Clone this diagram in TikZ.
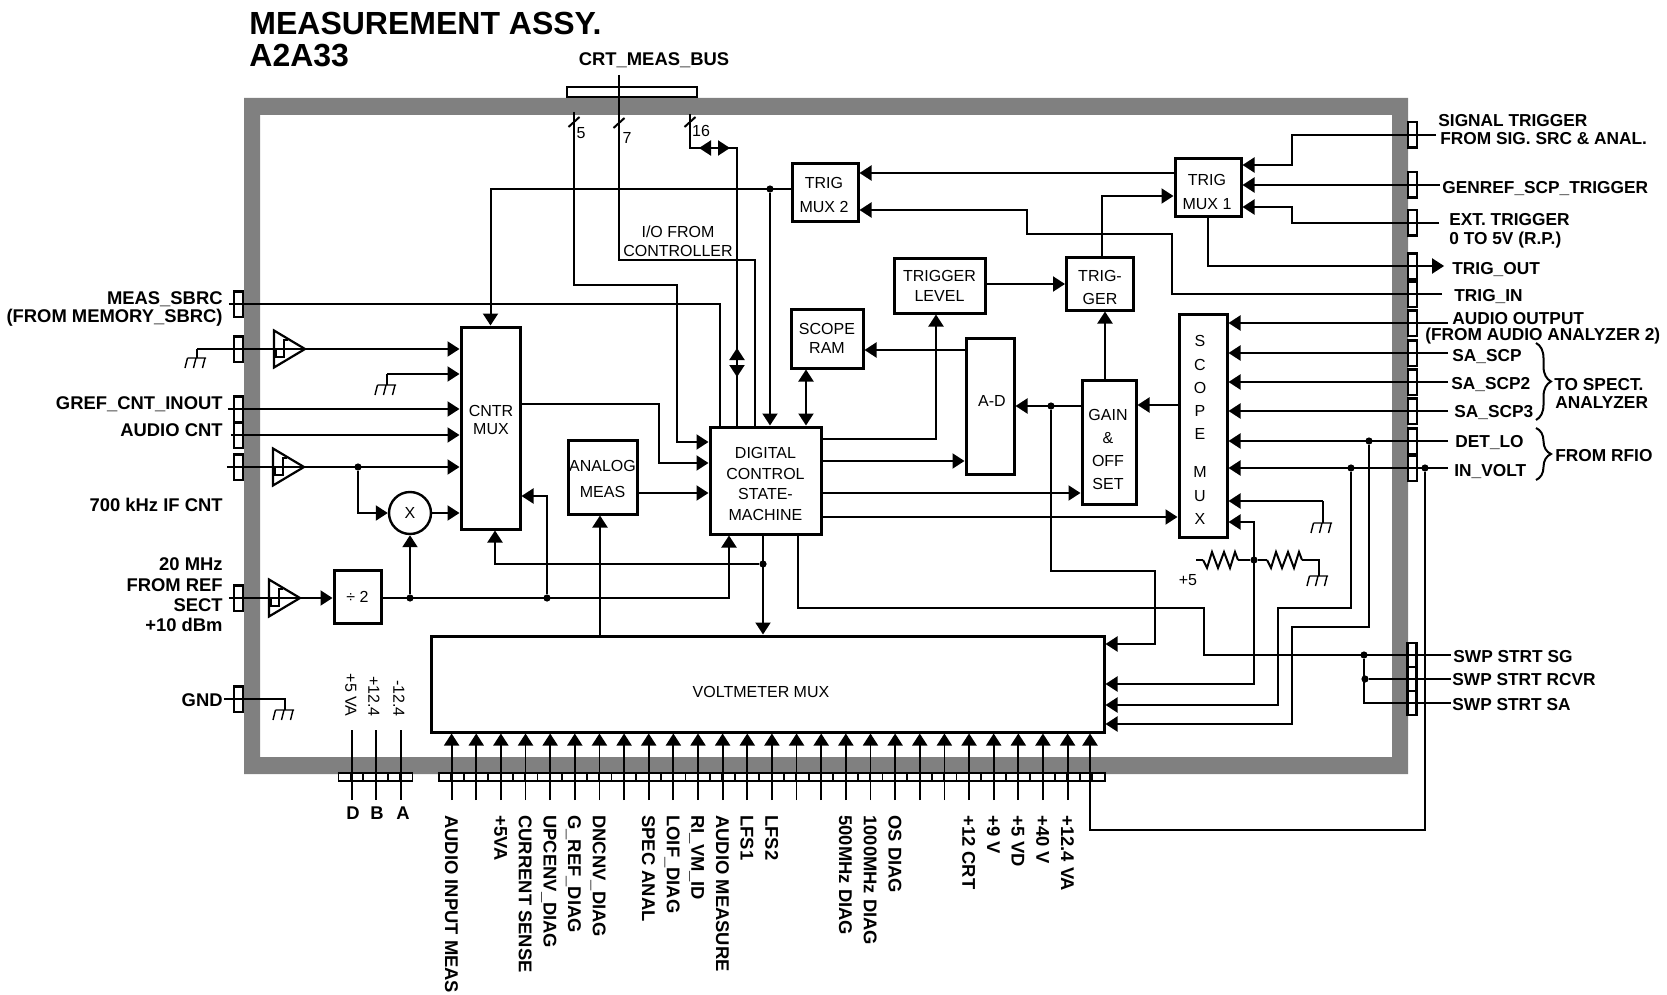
\documentclass[tikz,border=0pt]{standalone}
\usepackage{fontspec}
\setmainfont{Liberation Sans}
\usetikzlibrary{arrows.meta,decorations.pathreplacing}
\newcommand{\boxfont}[1]{\fontsize{8}{#1}\selectfont}
\definecolor{framegray}{HTML}{808080}
\tikzset{
	wire/.style={line width=1pt},
	pinwire/.style={line width=.9pt},
	blockbox/.style={draw,fill=white,line width=1.5pt,inner sep=0pt,align=center},
	termbox/.style={draw,fill=white,line width=1.1pt,inner sep=0pt,minimum width=4.5pt,minimum height=12.6pt},
	pinrowbox/.style={draw,fill=white,line width=.8pt,inner sep=0pt,minimum height=4pt},
	jdot/.style={circle,fill,inner sep=0pt,minimum size=3.6pt},
	boldlab/.style={inner sep=0pt,font=\fontsize{9.2}{11}\selectfont\bfseries,text height=6.6pt,text depth=0pt},
	sidelab/.style={boldlab,anchor=west,font=\fontsize{8.65}{11}\selectfont\bfseries},
	reglab/.style={inner sep=0pt,font=\boxfont{10},text height=5.7pt,text depth=0pt},
	linelab/.style={inner sep=0pt,align=center},
	titlelab/.style={inner sep=0pt,anchor=west,font=\fontsize{16}{18}\selectfont\bfseries,text height=11.4pt,text depth=0pt},
	gnd/.pic={\draw[line width=.7pt] (-9.5,0) -- (9,0) (-9.5,0) -- (-12,10) (-1,0) -- (-3.5,10) (8,0) -- (5.5,10);},
	ampbuf/.pic={\draw[line width=1.1pt] (0,-18.5) -- (31,0) -- (0,18.5) -- cycle;
		\draw[line width=1pt] (2,-1) -- (2,8) -- (10,8) -- (10,-9) -- (14,-9);},
	resist/.pic={\draw[wire] (0,0) -- (4,8) -- (9,-8) -- (15,8) -- (21,-8) -- (27,8) -- (32,-8) -- (35,0);}
}
\begin{document}
\begin{tikzpicture}[x=.5pt,y=-.5pt,>={Triangle[length=6pt,width=7.5pt]}]
	\useasboundingbox (0,0) rectangle (1667,995);
	\fill[framegray,even odd rule] (244,98) rectangle (1408,774) (260,115) rectangle (1392,757);
	% titles
	\node[titlelab] (title) at (249,23) {MEASUREMENT ASSY.};
	\node[titlelab] (titleref) at (249,55) {A2A33};
	\node[boldlab] (lbus) at (654,58.5) {CRT\_MEAS\_BUS};
	% blocks
	\node[blockbox,minimum width=33pt,minimum height=29pt] (trigmuxtwo) at (825,193) {};
	\node[linelab,font=\boxfont{12}] (trigtwotext) at (824,195) {TRIG\\MUX 2};
	\node[blockbox,minimum width=33pt,minimum height=29pt] (trigmuxone) at (1208,188) {};
	\node[linelab,font=\boxfont{12}] (trigonetext) at (1207,192) {TRIG\\MUX 1};
	\node[blockbox,minimum width=29.5pt,minimum height=101pt] (cntrmux) at (490.5,428) {};
	\node[linelab,font=\boxfont{9}] (cntrtext) at (491,419.5) {CNTR\\MUX};
	\node[blockbox,font=\boxfont{10.2},minimum width=55.5pt,minimum height=53.5pt] (dcsm) at (765.5,480.5) {};
	\node[linelab,font=\boxfont{10.2}] (dcsmtext) at (765.5,484) {DIGITAL\\CONTROL\\STATE-\\MACHINE};
	\node[blockbox,minimum width=34.5pt,minimum height=37pt] (analog) at (602.5,477) {};
	\node[linelab,font=\boxfont{13}] (analogtext) at (602.5,478.5) {ANALOG\\MEAS};
	\node[blockbox,minimum width=336.5pt,minimum height=48pt] (vmm) at (767.5,684) {};
	\node[reglab] (vmmtext) at (761,692) {VOLTMETER MUX};
	\node[blockbox,font=\boxfont{10},minimum width=23.5pt,minimum height=26.5pt] (divtwo) at (357.5,596.5) {÷ 2};
	\node[blockbox,minimum width=33.5pt,minimum height=26.5pt] (trigger) at (1100,283.5) {};
	\node[linelab,font=\boxfont{11.5}] (triggertext) at (1100,287.5) {TRIG-\\GER};
	\node[blockbox,font=\boxfont{10},minimum width=45.5pt,minimum height=27.5pt] (triglevel) at (939.5,285.5) {TRIGGER\\LEVEL};
	\node[blockbox,font=\boxfont{9.5},minimum width=36pt,minimum height=29.5pt] (scoperam) at (827,338.5) {SCOPE\\RAM};
	\node[blockbox,minimum width=24pt,minimum height=68pt] (atod) at (990,406) {};
	\node[reglab] (atodtext) at (992,401) {A-D};
	\node[blockbox,minimum width=27pt,minimum height=62pt] (gain) at (1109,442) {};
	\node[linelab,font=\boxfont{11.6}] (gaintext) at (1108,449.5) {GAIN\\\&\\OFF\\SET};
	\node[blockbox,minimum width=24pt,minimum height=111.5pt] (scopemux) at (1203,425.5) {};
	\node[linelab,font=\boxfont{11.6}] (scopetext) at (1200,430) {S\\C\\O\\P\\E\\[7.5pt]M\\U\\X};
	\node[circle,draw,fill=white,line width=1.2pt,inner sep=0pt,minimum size=21pt,font=\boxfont{10}] (xmix) at (410,513) {X};
	% terminals
	\foreach \t/\y in {tmeas/304,tampin/349,tgref/409,taudcnt/435,tifcnt/467,tref/598,tgnd/699}
		\node[termbox] (\t) at (238.5,\y) {};
	\foreach \t/\y in {tsig/135,tgen/185,tbext/223,ttrigout/266,ttrigin/294,taudout/323,tscp/353,tscptwo/382,tscpthree/411,tdet/441,tvolt/468}
		\node[termbox] (\t) at (1412.5,\y) {};
	\foreach \t/\y in {tswpsg/655,tswprc/679,tswpsa/703}
		\node[termbox,minimum height=12pt] (\t) at (1412,\y) {};
	\node[pinrowbox,minimum width=65pt,minimum height=5pt] (busrow) at (632,92) {};
	\node[pinrowbox,minimum width=37pt] (powrow) at (375.5,777) {};
	\node[pinrowbox,minimum width=333pt] (pinrow) at (772,777) {};
	\foreach \i in {1,...,5}
		\draw[pinwire] (338.5+12.33*\i,773) -- (338.5+12.33*\i,781);
	\foreach \i in {1,...,53}
		\draw[pinwire] (439+12.32*\i,773) -- (439+12.32*\i,781);
	% junctions
	\foreach \d/\p in {dtrig/{770,189},difcnt/{358,467},dx/{410,598},dm/{547,598},dsel/{763,564},dad/{1051,406},ddet/{1369,441},dvolt/{1351,468},dvoltr/{1425,468},dres/{1254,560},dsg/{1364,655},drc/{1365,679}}
		\node[jdot] (\d) at (\p) {};
	\coordinate (bfive) at (574,112);
	\coordinate (bseven) at (619,75);
	\coordinate (bsixteen) at (690,114);
	\coordinate (gndone) at (197,349);
	\coordinate (gndtwo) at (387,374);
	\coordinate (gndthree) at (1323,501);
	\coordinate (pintop) at (0,730);
	\coordinate (pinbase) at (0,800);
	\coordinate (resin) at (1196,560);
	% bus lines
	\draw[wire,->] (bfive) |- (677,285) |- (dcsm.west |- 0,442);
	\draw[wire] (bseven) |- (755,260) -- (755,0 |- dcsm.north);
	\draw[wire] (bsixteen) |- (737,148) -- (737,0 |- dcsm.north);
	\draw[wire,<->] (699,148) -- (730,148);
	\draw[wire,<->] (737,348) -- (737,377);
	\foreach \b/\y in {bfive/10,bseven/48,bsixteen/8}
		\draw[wire] ([shift={(-5.5,\y+5)}]\b) -- ([shift={(5.5,\y-5)}]\b);
	\node[reglab] (nfive) at (581,133) {5};
	\node[reglab] (nseven) at (627,138) {7};
	\node[reglab] (nsixteen) at (701,131) {16};
	\node[linelab,font=\boxfont{9.5}] (lio) at (678,241) {I/O FROM\\CONTROLLER};
	% left side
	\draw[wire] ([xshift=-2pt]tmeas.west) -| (720,0 |- dcsm.north);
	\draw[wire,->] (trigmuxtwo.west |- dtrig) -| (cntrmux.north);
	\draw[wire,->] (dtrig) -- (dtrig |- dcsm.north);
	\draw[wire,->] (gndone) -- (cntrmux.west |- gndone);
	\draw[wire] (gndone) -- ++(0,9) pic {gnd};
	\draw[wire,->] (gndtwo) -- (cntrmux.west |- gndtwo);
	\draw[wire] (gndtwo) -- ++(0,11) pic {gnd};
	\draw[wire,->] ([xshift=-2.5pt]tgref.west) -- (cntrmux.west |- tgref);
	\draw[wire,->] ([xshift=-1pt]taudcnt.west) -- (cntrmux.west |- taudcnt);
	\draw[wire,->] ([xshift=-3pt]tifcnt.west) -- (cntrmux.west |- tifcnt);
	\draw[wire,->] (difcnt) |- (xmix.west);
	\draw[wire,->] (xmix.east) -- (cntrmux.west |- xmix.east);
	\draw[wire,->] ([xshift=-2pt]tref.west) -- (divtwo.west |- tref);
	\draw[wire,->] (divtwo.east |- tref) -| (729,0 |- dcsm.south);
	\draw[wire,->] (dx) -- (xmix.south);
	\draw[wire,->] (dm) |- (cntrmux.east |- 0,496);
	\draw[wire,->] (dsel) -| (495,0 |- cntrmux.south);
	\draw[wire,->] (dsel |- dcsm.south) -- (dsel |- vmm.north);
	\draw[wire,->] (600,0 |- vmm.north) -- (600,0 |- analog.south);
	\draw[wire,->] (analog.east |- 0,493) -- (dcsm.west |- 0,493);
	\draw[wire,->] (cntrmux.east |- 0,404) -| (659,463) -- (dcsm.west |- 0,463);
	\draw[wire] ([xshift=-4.5pt]tgnd.west) -| (285,710) pic {gnd};
	\pic at (274,349) {ampbuf};
	\pic at (273,467) {ampbuf};
	\pic at (269,598) {ampbuf};
	% right side
	\draw[wire,->] ([xshift=9pt]tsig.east) -| (1292,165) -- (trigmuxone.east |- 0,165);
	\draw[wire,->] ([xshift=11pt]tgen.east) -- (trigmuxone.east |- tgen);
	\draw[wire,->] ([xshift=10.5pt]tbext.east) -| (1292,207) -- (trigmuxone.east |- 0,207);
	\draw[wire,->] (trigmuxone.west |- 0,173) -- (trigmuxtwo.east |- 0,173);
	\draw[wire,->] ([xshift=12pt]ttrigin.east) -| (1172,234) -| (1027,210) -- (trigmuxtwo.east |- 0,210);
	\draw[wire,->] (trigmuxone.south) |- ([xshift=13pt]ttrigout.east);
	\draw[wire,->] (1102,0 |- trigger.north) |- (trigmuxone.west |- 0,196);
	\draw[wire,->] (triglevel.east |- 0,284) -- (trigger.west |- 0,284);
	\draw[wire,->] (dcsm.east |- 0,439) -| (936,0 |- triglevel.south);
	\draw[wire,->] (atod.west |- 0,350) -- (scoperam.east |- 0,350);
	\draw[wire,<->] (806,0 |- scoperam.south) -- (806,0 |- dcsm.north);
	\draw[wire,->] (dcsm.east |- 0,461) -- (atod.west |- 0,461);
	\draw[wire,->] (dcsm.east |- 0,493) -- (gain.west |- 0,493);
	\draw[wire,->] (dcsm.east |- 0,517) -- (scopemux.west |- 0,517);
	\draw[wire,->] (1105,0 |- gain.north) -- (1105,0 |- trigger.south);
	\draw[wire,->] (gain.west |- 0,406) -- (atod.east |- 0,406);
	\draw[wire,->] (scopemux.west |- 0,405) -- (gain.east |- 0,405);
	\draw[wire,->] (dad) |- (1155,571) |- (vmm.east |- 0,644);
	\foreach \t in {taudout,tscp,tscptwo,tscpthree,tdet,tvolt}
		\draw[wire,->] ([xshift=15pt]\t.east) -- (scopemux.east |- \t);
	\draw[wire,->] (ddet) |- (1292,627) |- (vmm.east |- 0,724);
	\draw[wire,->] (dvolt) |- (1278,608) |- (vmm.east |- 0,705);
	\draw[wire,->] (dvoltr) |- (1090,830) -- (1090,0 |- vmm.south);
	\draw[wire,->] (gndthree) -- (scopemux.east |- gndthree);
	\draw[wire] (gndthree) -- ++(0,22) pic {gnd};
	\draw[wire,<->] (scopemux.east |- 0,522) -| (1254,684) -- (vmm.east |- 0,684);
	\draw[wire] (resin) -- (1203,560) pic {resist} (1238,560) -- (dres) -- (1267,560) pic {resist} (1302,560) -| (1319,576) pic {gnd};
	\node[reglab] (lfive) at (1188,580) {+5};
	\draw[wire] (798,0 |- dcsm.south) |- (1204,608) |- ([xshift=16.5pt]tswpsg.east);
	\draw[wire] (drc) -- ([xshift=16.5pt]tswprc.east);
	\draw[wire] (dsg) |- ([xshift=16.5pt]tswpsa.east);
	% bottom pins
	\foreach \k in {0,...,25}
		\draw[pinwire,->] (451.6+24.64*\k,0 |- pinbase) -- (451.6+24.64*\k,0 |- vmm.south);
	\foreach \x in {352,376,401}
		\draw[pinwire] (\x,0 |- pintop) -- (\x,0 |- pinbase);
	\node[boldlab] (ld) at (353,813) {D};
	\node[boldlab] (lb) at (377,813) {B};
	\node[boldlab] (la) at (403,813) {A};
	\node[reglab,rotate=-90,anchor=east] (lva) at (351,717) {+5 VA};
	\node[reglab,rotate=-90,anchor=east] (lvb) at (374,717) {+12.4};
	\node[reglab,rotate=-90,anchor=east] (lvd) at (399,717) {-12.4};
	\foreach \k/\lab in {0/AUDIO INPUT MEAS,2/+5VA,3/CURRENT SENSE,4/UPCENV\_DIAG,5/G\_REF\_DIAG,6/DNCNV\_DIAG,8/SPEC ANAL,9/LOIF\_DIAG,10/RI\_VM\_ID,11/AUDIO MEASURE,12/LFS1,13/LFS2,16/500MHz DIAG,17/1000MHz DIAG,18/OS DIAG,21/+12 CRT,22/+9 V,23/+5 VD,24/+40 V,25/+12.4 VA}
		\node[boldlab,rotate=-90,anchor=west] (lpin\k) at (451.6+24.64*\k,815) {\lab};
	% left labels
	\foreach \n/\y/\lab in {lmeas/298/MEAS\_SBRC,lmem/316/(FROM MEMORY\_SBRC),lgref/403/GREF\_CNT\_INOUT,laud/430/AUDIO CNT,lif/505/700 kHz IF CNT,ltwenty/564/20 MHz,lfrom/585/FROM REF,lsect/605/SECT,ldbm/625/+10 dBm,lgnd/700/GND}
		\node[boldlab,anchor=east] (\n) at (223,\y) {\lab};
	% right labels
	\foreach \n/\x/\y/\lab in {lsig/1438/120/SIGNAL TRIGGER,lsrc/1440/138/FROM SIG. SRC \& ANAL.,lgen/1442/187/GENREF\_SCP\_TRIGGER,lext/1449/219/EXT. TRIGGER,lzero/1449/238/0 TO 5V (R.P.),ltout/1452/268/TRIG\_OUT,ltin/1454/295/TRIG\_IN,laudo/1452/318/AUDIO OUTPUT,lana/1425/334/(FROM AUDIO ANALYZER 2),lscp/1452/355/SA\_SCP,lscpb/1451/383/SA\_SCP2,lscpc/1454/411/SA\_SCP3,ldet/1455/441/DET\_LO,lvolt/1454/470/IN\_VOLT,lto/1554/384/TO SPECT.,lanl/1555/402/ANALYZER,lrf/1555/455/FROM RFIO,lsg/1453/656/SWP STRT SG,lrc/1452/679/SWP STRT RCVR,lsa/1452/704/SWP STRT SA}
		\node[sidelab] (\n) at (\x,\y) {\lab};
	\coordinate (scpbracetop) at (1536,343);
	\coordinate (scpbracebot) at (1536,420);
	\coordinate (rfbracetop) at (1536,428);
	\coordinate (rfbracebot) at (1536,480);
	\draw[wire,decorate,decoration={brace,amplitude=7.5pt}] (scpbracetop) -- (scpbracebot);
	\draw[wire,decorate,decoration={brace,amplitude=7.5pt}] (rfbracetop) -- (rfbracebot);
\end{tikzpicture}
\end{document}
